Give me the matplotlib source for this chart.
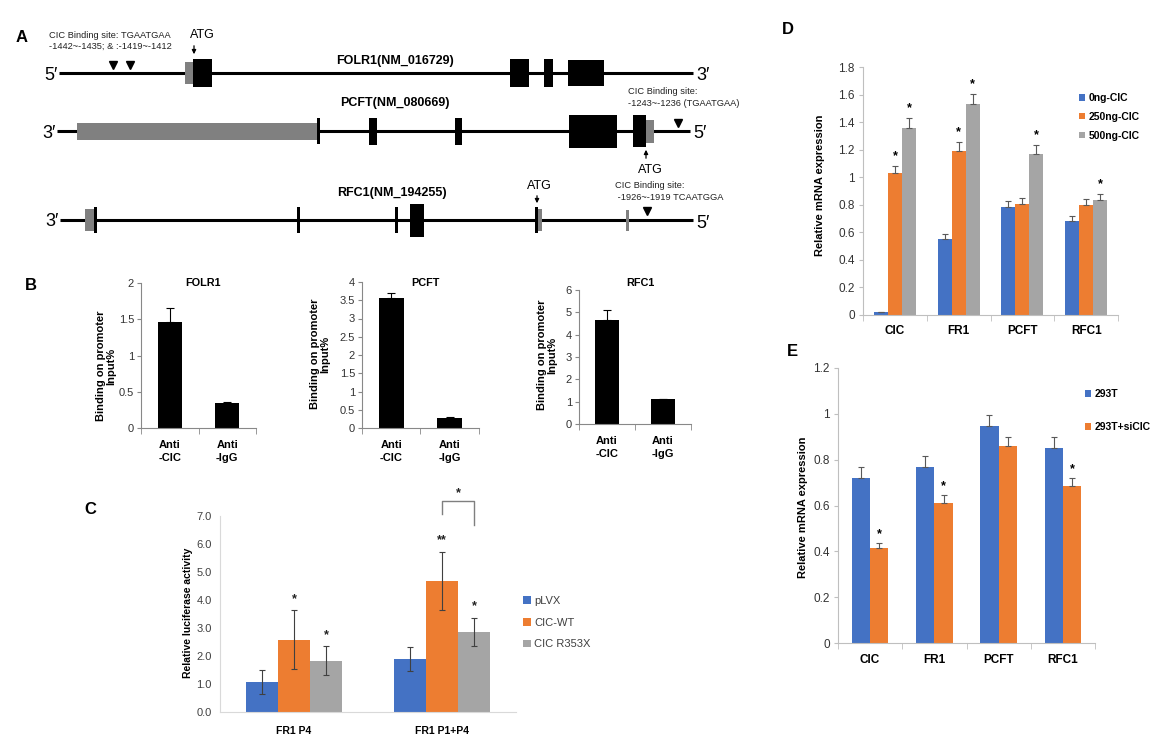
import numpy as np
import matplotlib
matplotlib.use("Agg")
import matplotlib.pyplot as plt

plt.rcParams['font.family'] = ['Liberation Sans', 'DejaVu Sans']

W, H = 1167, 749

# ------------------------------------------------------------
# Data
# ------------------------------------------------------------
# Panel A: gene structures (genomic drawing coordinates)
gene_names = ["FOLR1(NM_016729)", "PCFT(NM_080669)", "RFC1(NM_194255)"]
gene_ends = [("5′", "3′"), ("3′", "5′"), ("3′", "5′")]
gene_span = [(59, 693), (57, 690), (60, 693)]
folr1_cds = [(193, 212, 28), (510, 529, 28), (544, 553, 28), (568, 604, 26)]
folr1_utr = [(185, 193, 22)]
pcft_cds = [(317, 320, 26), (369, 377, 27), (455, 462, 27), (569, 617, 33), (633, 646, 32)]
pcft_utr = [(77, 317, 17), (646, 654, 23)]
rfc1_cds = [(94, 97, 26), (297, 300, 26), (395, 398, 26), (410, 424, 33), (535, 538, 26)]
rfc1_utr = [(85, 94, 22), (538, 542, 22), (626, 629, 21)]
folr1_sites = [113, 130]
pcft_sites = [678]
rfc1_sites = [647]

# Panel B: ChIP binding
b_titles = ["FOLR1", "PCFT", "RFC1"]
b_groups = ["Anti\n-CIC", "Anti\n-IgG"]
folr1_bind = [1.46, 0.35]
folr1_err = [0.19, 0.015]
pcft_bind = [3.55, 0.27]
pcft_err = [0.15, 0.03]
rfc1_bind = [4.67, 1.10]
rfc1_err = [0.44, 0.04]

# Panel C: luciferase
c_groups = ["FR1 P4", "FR1 P1+P4"]
c_series = ["pLVX", "CIC-WT", "CIC R353X"]
c_plvx = [1.07, 1.90]
c_plvx_err = [0.42, 0.43]
c_wt = [2.58, 4.68]
c_wt_err = [1.05, 1.05]
c_r353x = [1.83, 2.86]
c_r353x_err = [0.52, 0.51]
c_wt_stars = ["*", "**"]
c_r353x_stars = ["*", "*"]

# Panel D: overexpression
d_genes = ["CIC", "FR1", "PCFT", "RFC1"]
d_series = ["0ng-CIC", "250ng-CIC", "500ng-CIC"]
d_0 = [0.02, 0.553, 0.785, 0.684]
d_0_err = [0.003, 0.032, 0.044, 0.036]
d_250 = [1.034, 1.193, 0.809, 0.800]
d_250_err = [0.048, 0.063, 0.041, 0.040]
d_500 = [1.360, 1.529, 1.171, 0.838]
d_500_err = [0.072, 0.077, 0.063, 0.042]
d_250_sig = [True, True, False, False]
d_500_sig = [True, True, True, True]

# Panel E: knockdown
e_genes = ["CIC", "FR1", "PCFT", "RFC1"]
e_series = ["293T", "293T+siCIC"]
e_wt = [0.720, 0.767, 0.945, 0.849]
e_wt_err = [0.050, 0.051, 0.052, 0.051]
e_si = [0.413, 0.613, 0.859, 0.683]
e_si_err = [0.023, 0.031, 0.042, 0.037]
e_si_sig = [True, True, False, True]

BLUE, ORANGE, GRAY = "#4472C4", "#ED7D31", "#A5A5A5"

fig = plt.figure(figsize=(W / 100, H / 100), dpi=100)


def px_axes(l, t, r, b):
    return fig.add_axes([l / W, 1 - b / H, (r - l) / W, (b - t) / H], facecolor="none")


def ptext(x, y, s, **kw):
    return fig.text(x / W, 1 - y / H, s, **kw)


# ------------------------------------------------------------
# Panel A: gene diagrams
# ------------------------------------------------------------
ax = fig.add_axes([0, 0, 1, 1], facecolor="none")
ax.set_xlim(0, W)
ax.set_ylim(H, 0)
ax.axis("off")

line_y = [73, 131, 220]
cds_all = [folr1_cds, pcft_cds, rfc1_cds]
utr_all = [folr1_utr, pcft_utr, rfc1_utr]
sites_all = [folr1_sites, pcft_sites, rfc1_sites]
site_dy = [8, 8, 9]
label_pos = [(395, 61), (395, 103), (392, 193)]

for i in range(3):
    y = line_y[i]
    x0, x1 = gene_span[i]
    ax.plot([x0, x1], [y, y], color="black", lw=2.2, solid_capstyle="butt", zorder=1)
    for s, e, h in utr_all[i]:
        ax.bar((s + e) / 2, h, width=e - s, bottom=y - h / 2, color="#808080", zorder=2)
    for s, e, h in cds_all[i]:
        ax.bar((s + e) / 2, h, width=e - s, bottom=y - h / 2, color="black", zorder=3)
    for sx in sites_all[i]:
        ax.plot(sx, y - site_dy[i], marker="v", color="black", ms=5.5, zorder=3)
    ax.text(x0 - 1, y + 2, gene_ends[i][0], ha="right", va="center", fontsize=13)
    ax.text(x1 + 3, y + 3, gene_ends[i][1], ha="left", va="center", fontsize=13)
    ax.text(label_pos[i][0], label_pos[i][1], gene_names[i], ha="center", va="center",
            fontsize=9, fontweight="bold")

small = dict(fontsize=6.7, color="#222222", va="center", ha="left")
ax.text(49, 35, "CIC Binding site: TGAATGAA", **small)
ax.text(49, 46, "-1442~-1435; & :-1419~-1412", **small)
ax.text(628, 92, "CIC Binding site:", **small)
ax.text(628, 103, "-1243~-1236 (TGAATGAA)", **small)
ax.text(615, 186, "CIC Binding site:", **small)
ax.text(615, 198, " -1926~-1919 TCAATGGA", **small)

arrow = dict(arrowstyle="-|>", color="black", lw=0.9, mutation_scale=6)
ax.text(202, 35, "ATG", ha="center", va="center", fontsize=9)
ax.annotate("", xy=(194, 57), xytext=(194, 43), arrowprops=arrow)
ax.text(650, 170, "ATG", ha="center", va="center", fontsize=9)
ax.annotate("", xy=(646, 147), xytext=(646, 161), arrowprops=arrow)
ax.text(539, 186, "ATG", ha="center", va="center", fontsize=9)
ax.annotate("", xy=(537, 206), xytext=(537, 193), arrowprops=arrow)

for lab, (x, y) in zip("ABCDE", [(22, 37), (31, 285), (90, 510), (788, 30), (792, 351)]):
    ax.text(x, y, lab, ha="center", va="center", fontsize=12, fontweight="bold")

# ------------------------------------------------------------
# Panel B: ChIP bar charts
# ------------------------------------------------------------
b_boxes = [(141, 283, 256, 428), (362, 282, 479, 428), (579, 290, 691, 424)]
b_vals = [folr1_bind, pcft_bind, rfc1_bind]
b_errs = [folr1_err, pcft_err, rfc1_err]
b_ylims = [(2, 0.5), (4, 0.5), (6, 1)]
b_ylab_xy = [(106, 366), (320, 354), (547, 355)]

for i in range(3):
    l, t, r, b = b_boxes[i]
    axb = px_axes(l, t, r, b)
    xs = np.arange(len(b_groups))
    axb.bar(xs, b_vals[i], width=0.42, color="black")
    axb.errorbar(xs, b_vals[i], yerr=[[0, 0], b_errs[i]], fmt="none", ecolor="black",
                 elinewidth=0.8, capsize=3, capthick=0.8)
    top, step = b_ylims[i]
    axb.set_ylim(0, top)
    axb.set_xlim(-0.5, 1.5)
    axb.set_yticks(np.arange(0, top + step / 2, step))
    axb.set_yticklabels([f"{v:g}" for v in np.arange(0, top + step / 2, step)])
    axb.set_xticks(xs)
    axb.set_xticklabels(b_groups, fontweight="bold", fontsize=8, linespacing=1.3)
    axb.set_xticks([-0.5, 0.5, 1.5], minor=True)
    axb.tick_params(axis="x", which="major", length=0, pad=9)
    axb.tick_params(axis="x", which="minor", length=4, color="#888888", direction="out")
    axb.tick_params(axis="y", length=3, color="#888888", labelsize=8, pad=2, labelcolor="#333333")
    for sp in ["top", "right"]:
        axb.spines[sp].set_visible(False)
    for sp in ["left", "bottom"]:
        axb.spines[sp].set_color("#888888")
        axb.spines[sp].set_linewidth(0.8)
    ptext((l + r) / 2 + 5, 283, b_titles[i], ha="center", va="center", fontsize=7.8, fontweight="bold")
    ptext(b_ylab_xy[i][0], b_ylab_xy[i][1], "Binding on promoter\nInput%", rotation=90,
          ha="center", va="center", fontsize=8, fontweight="bold", linespacing=1.0)

# ------------------------------------------------------------
# Panel C: luciferase activity
# ------------------------------------------------------------
axc = px_axes(220, 516, 516, 712)
xs = np.arange(len(c_groups))
bw = 0.216
c_vals = [c_plvx, c_wt, c_r353x]
c_errs = [c_plvx_err, c_wt_err, c_r353x_err]
c_cols = [BLUE, ORANGE, GRAY]
for k in range(3):
    pos = xs + (k - 1) * bw
    axc.bar(pos, c_vals[k], width=bw, color=c_cols[k], label=c_series[k])
    axc.errorbar(pos, c_vals[k], yerr=c_errs[k], fmt="none", ecolor="#404040",
                 elinewidth=0.8, capsize=2.5, capthick=0.8)
for k, stars in [(1, c_wt_stars), (2, c_r353x_stars)]:
    for j in range(2):
        axc.text(xs[j] + (k - 1) * bw, c_vals[k][j] + c_errs[k][j] + 0.18, stars[j],
                 ha="center", va="bottom", fontsize=9, fontweight="bold", color="#222222")
# bracket between CIC-WT and CIC R353X on FR1 P1+P4
bx0, bx1 = xs[1], xs[1] + bw
axc.plot([bx0, bx0, bx1, bx1], [7.08, 7.53, 7.53, 6.69], color="#7f7f7f", lw=1.0, clip_on=False)
axc.text((bx0 + bx1) / 2, 7.6, "*", ha="center", va="bottom", fontsize=9, fontweight="bold",
         color="#222222", clip_on=False)
axc.set_ylim(0, 7)
axc.set_xlim(-0.5, 1.5)
axc.set_yticks(np.arange(0, 7.5, 1))
axc.set_yticklabels([f"{v:.1f}" for v in np.arange(0, 7.5, 1)])
axc.set_xticks(xs)
axc.set_xticklabels(c_groups, fontweight="bold", fontsize=7.5)
axc.tick_params(axis="x", length=0, pad=10)
axc.tick_params(axis="y", length=0, labelsize=8, labelcolor="#404040", pad=6)
for sp in ["top", "right"]:
    axc.spines[sp].set_visible(False)
for sp in ["left", "bottom"]:
    axc.spines[sp].set_color("#d9d9d9")
ptext(188, 613, "Relative luciferase activity", rotation=90, ha="center", va="center",
      fontsize=7.5, fontweight="bold")
axc.legend(loc="upper left", bbox_to_anchor=(523 / W, 1 - 596 / H), bbox_transform=fig.transFigure,
           frameon=False, fontsize=8, handlelength=0.7, handleheight=0.7, handletextpad=0.3,
           labelspacing=1.05, borderpad=0, borderaxespad=0, labelcolor="#404040")

# ------------------------------------------------------------
# Panel D: mRNA after CIC overexpression
# ------------------------------------------------------------
axd = px_axes(863, 67, 1118, 315)
xs = np.arange(len(d_genes))
bw = 0.22
d_vals = [d_0, d_250, d_500]
d_errs = [d_0_err, d_250_err, d_500_err]
for k in range(3):
    pos = xs + (k - 1) * bw
    axd.bar(pos, d_vals[k], width=bw, color=c_cols[k], label=d_series[k])
    axd.errorbar(pos, d_vals[k], yerr=[np.zeros(4), d_errs[k]], fmt="none", ecolor="#595959",
                 elinewidth=0.8, capsize=2.5, capthick=0.8)
for k, sig in [(1, d_250_sig), (2, d_500_sig)]:
    for j in range(4):
        if sig[j]:
            axd.text(xs[j] + (k - 1) * bw, d_vals[k][j] + d_errs[k][j] + 0.025, "*",
                     ha="center", va="bottom", fontsize=9, fontweight="bold")
axd.set_ylim(0, 1.8)
axd.set_xlim(-0.5, 3.5)
yt = np.arange(0, 1.81, 0.2)
axd.set_yticks(yt)
axd.set_yticklabels([f"{v:g}" for v in np.round(yt, 1)])
axd.set_xticks(xs)
axd.set_xticklabels(d_genes, fontweight="bold", fontsize=8.5)
axd.set_xticks(np.arange(-0.5, 3.6, 1), minor=True)
axd.tick_params(axis="x", which="major", length=0, pad=7)
axd.tick_params(axis="x", which="minor", length=4, color="#bfbfbf")
axd.tick_params(axis="y", length=3, color="#bfbfbf", labelsize=8.5, labelcolor="#333333", pad=3)
for sp in ["top", "right"]:
    axd.spines[sp].set_visible(False)
for sp in ["left", "bottom"]:
    axd.spines[sp].set_color("#bfbfbf")
ptext(820, 185, "Relative mRNA expression", rotation=90, ha="center", va="center",
      fontsize=8, fontweight="bold")
axd.legend(loc="upper left", bbox_to_anchor=(1079 / W, 1 - 93 / H), bbox_transform=fig.transFigure,
           frameon=False, handlelength=0.6, handleheight=0.6, handletextpad=0.3,
           labelspacing=0.85, borderpad=0, borderaxespad=0,
           prop=dict(size=7.5, weight="bold"))

# ------------------------------------------------------------
# Panel E: mRNA after CIC knockdown
# ------------------------------------------------------------
axe = px_axes(838, 368, 1095, 643)
xs = np.arange(len(e_genes))
bw = 0.285
e_vals = [e_wt, e_si]
e_errs = [e_wt_err, e_si_err]
for k in range(2):
    pos = xs + (k - 0.5) * bw
    axe.bar(pos, e_vals[k], width=bw, color=c_cols[k], label=e_series[k])
    axe.errorbar(pos, e_vals[k], yerr=[np.zeros(4), e_errs[k]], fmt="none", ecolor="#595959",
                 elinewidth=0.8, capsize=2.5, capthick=0.8)
for j in range(4):
    if e_si_sig[j]:
        axe.text(xs[j] + 0.5 * bw, e_si[j] + e_si_err[j] + 0.012, "*",
                 ha="center", va="bottom", fontsize=9, fontweight="bold")
axe.set_ylim(0, 1.2)
axe.set_xlim(-0.5, 3.5)
yt = np.arange(0, 1.21, 0.2)
axe.set_yticks(yt)
axe.set_yticklabels([f"{v:g}" for v in np.round(yt, 1)])
axe.set_xticks(xs)
axe.set_xticklabels(e_genes, fontweight="bold", fontsize=8.5)
axe.set_xticks(np.arange(-0.5, 3.6, 1), minor=True)
axe.tick_params(axis="x", which="major", length=0, pad=8)
axe.tick_params(axis="x", which="minor", length=4, color="#bfbfbf")
axe.tick_params(axis="y", length=3, color="#bfbfbf", labelsize=8.5, labelcolor="#333333", pad=3)
for sp in ["top", "right"]:
    axe.spines[sp].set_visible(False)
for sp in ["left", "bottom"]:
    axe.spines[sp].set_color("#bfbfbf")
ptext(803, 507, "Relative mRNA expression", rotation=90, ha="center", va="center",
      fontsize=8, fontweight="bold")
axe.legend(loc="upper left", bbox_to_anchor=(1085 / W, 1 - 389 / H), bbox_transform=fig.transFigure,
           frameon=False, handlelength=0.6, handleheight=0.6, handletextpad=0.3,
           labelspacing=2.25, borderpad=0, borderaxespad=0,
           prop=dict(size=7.5, weight="bold"))

fig.savefig("out.png", dpi=100)
